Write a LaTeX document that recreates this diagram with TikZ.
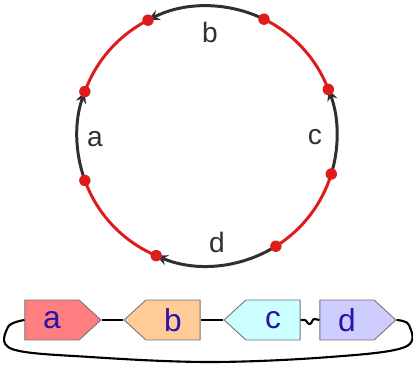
\documentclass[tikz,border=0pt]{standalone}
\usepackage{fontspec}
\setmainfont{Liberation Sans}
\usetikzlibrary{arrows.meta, shapes.symbols, calc}

\definecolor{ringred}{RGB}{222,28,28}
\definecolor{ringdark}{RGB}{48,48,48}
\definecolor{fillA}{RGB}{255,127,128}
\definecolor{fillB}{RGB}{255,204,153}
\definecolor{fillC}{RGB}{204,255,255}
\definecolor{fillD}{RGB}{204,204,255}
\definecolor{boxtext}{RGB}{42,19,168}

\tikzset{
  redarc/.style={draw=ringred, line width=1.7pt},
  darkarc/.style={draw=ringdark, line width=1.7pt, -{Stealth[length=6.5pt, width=6pt]}},
  ringdot/.style={circle, fill=ringred, inner sep=0pt, minimum size=6.5pt},
  ringlabel/.style={text=ringdark, font=\fontsize{16}{18}\selectfont},
  gene/.style={signal, draw=black!55, line width=0.5pt, inner sep=0pt,
    minimum width=1.52cm, minimum height=0.8cm, signal pointer angle=85,
    text=boxtext, font=\fontsize{18}{20}\selectfont},
  link/.style={draw=black, line width=1.2pt}
}

\begin{document}
\begin{tikzpicture}[x=0.02cm, y=0.02cm, >=Stealth]
\useasboundingbox (0,0) rectangle (413,365);

% ring
\coordinate (O) at (207,229);
\foreach \ang/\nm in {117/b1, 64/b0, 160/a1, 200/a0, 21/c1, -17/c0, 247/d1, 302/d0}
  \coordinate (\nm) at ($(O)+(\ang:2.6cm)$);

\draw[redarc] (b1) arc[start angle=117, end angle=160, radius=2.6cm];
\draw[redarc] (c1) arc[start angle=21, end angle=64, radius=2.6cm];
\draw[redarc] (a0) arc[start angle=200, end angle=247, radius=2.6cm];
\draw[redarc] (d0) arc[start angle=302, end angle=343, radius=2.6cm];

\draw[darkarc] (a0) arc[start angle=200, end angle=160, radius=2.6cm];
\draw[darkarc] (b0) arc[start angle=64, end angle=117, radius=2.6cm];
\draw[darkarc] (c0) arc[start angle=-17, end angle=21, radius=2.6cm];
\draw[darkarc] (d0) arc[start angle=302, end angle=247, radius=2.6cm];

\foreach \nm in {a0, a1, b0, b1, c0, c1, d0, d1}
  \node[ringdot] at (\nm) {};

\node[ringlabel] (la) at (95,226) {a};
\node[ringlabel] (lb) at (210,333) {b};
\node[ringlabel] (lc) at (315,228) {c};
\node[ringlabel] (ld) at (217,123) {d};

% genes
\node[gene, fill=fillA, signal to=east] (ga) at (52,45) {a};
\node[gene, fill=fillB, signal to=west] (gb) at (173,45) {b};
\node[gene, fill=fillC, signal to=west] (gc) at (273,45) {c};
\node[gene, fill=fillD, signal to=east] (gd) at (347,45) {d};

\draw[link] (ga.east) -- (gb.west);
\draw[link] (gb.east) -- (gc.west);
\draw[link] (gc.east) -- ++(4,0) to[out=0,in=180] ++(5,-4) to[out=0,in=180] ++(5,5) -- (gd.west);
\draw[link] plot[smooth, tension=0.6] coordinates
  {(gd.east) (409,40) (405,18) (330,8) (210,3) (90,8) (12,16) (8,38) (ga.west)};
\end{tikzpicture}
\end{document}
